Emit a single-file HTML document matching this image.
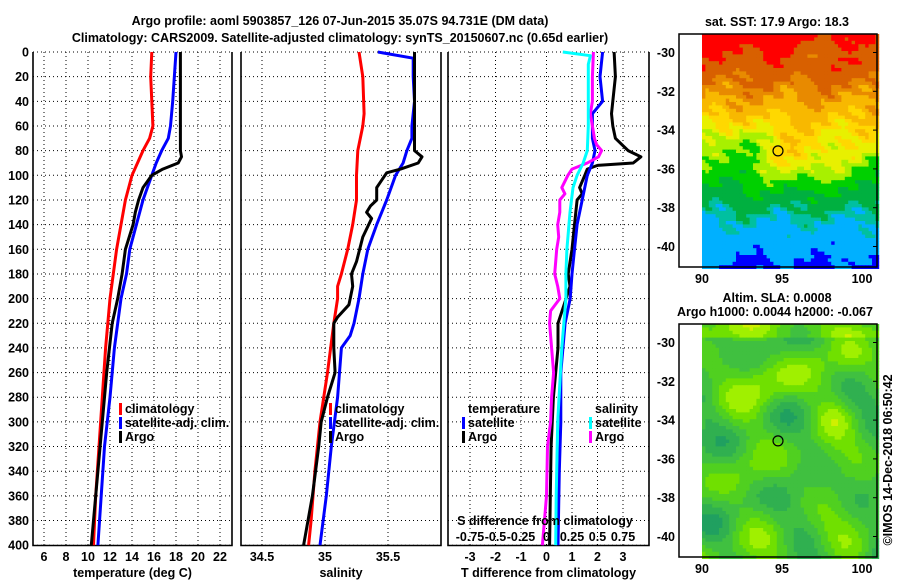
<!DOCTYPE html>
<html><head><meta charset="utf-8">
<style>
html,body{margin:0;padding:0;background:#fff;}
svg text{font-family:"Liberation Sans",sans-serif;font-weight:bold;font-size:12.5px;fill:#000;}
</style></head>
<body>
<svg id="chart" width="900" height="580" viewBox="0 0 900 580" xmlns="http://www.w3.org/2000/svg">
<rect width="900" height="580" fill="#fff"/>
<text x="340" y="25" text-anchor="middle" font-size="14">Argo profile: aoml 5903857_126 07-Jun-2015 35.07S 94.731E (DM data)</text>
<text x="340" y="42" text-anchor="middle" font-size="14">Climatology: CARS2009. Satellite-adjusted climatology: synTS_20150607.nc (0.65d earlier)</text>
<g id="panels"></g>
<g id="maps"></g>
<text x="777" y="26" text-anchor="middle">sat. SST: 17.9 Argo: 18.3</text>
<text x="777" y="302" text-anchor="middle">Altim. SLA: 0.0008</text>
<text x="775" y="316" text-anchor="middle">Argo h1000: 0.0044 h2000: -0.067</text>
<text transform="translate(892,460) rotate(-90)" text-anchor="middle" font-weight="normal">©IMOS 14-Dec-2018 06:50:42</text>
</svg>
<script>
// ---- data ----
const depthTicks = [0,20,40,60,80,100,120,140,160,180,200,220,240,260,280,300,320,340,360,380,400];
const tempTicks = [6,8,10,12,14,16,18,20,22];
const salTicks = [34.5,35,35.5];
const diffTTicks = [-3,-2,-1,0,1,2,3];
const diffSTicks = [-0.75,-0.5,-0.25,0,0.25,0.5,0.75];
const diffSTickLabels = ["-0.75","-0.5","-0.25","0","0.25","0.5","0.75"];

const tClimD = [0,20,40,60,70,80,90,100,120,140,160,180,200,240,280,320,360,400];
const tClimV = [15.8,15.7,15.8,15.9,15.6,15.0,14.5,14.0,13.4,13.0,12.6,12.3,12.0,11.6,11.3,11.0,10.7,10.5];
const tSatD = [0,40,60,70,80,90,100,120,140,160,180,200,240,280,320,360,400];
const tSatV = [18.0,17.7,17.5,17.3,16.7,16.2,15.8,15.0,14.4,13.8,13.5,13.0,12.4,12.0,11.5,11.2,10.9];
const tArgoD = [0,80,85,90,95,100,110,120,130,140,160,180,200,220,260,300,340,380,400];
const tArgoV = [18.4,18.4,18.5,18.2,16.8,15.8,15.0,14.6,14.3,14.1,13.4,13.1,12.7,12.2,11.7,11.3,10.9,10.5,10.3];

const sClimD = [0,20,50,60,80,100,120,140,160,180,190,200,220,260,300,340,380,400];
const sClimV = [35.27,35.30,35.31,35.30,35.26,35.25,35.25,35.22,35.18,35.13,35.10,35.10,35.07,35.02,34.96,34.92,34.89,34.87];
const sSatD = [0,5,20,40,60,70,80,90,100,120,140,160,180,200,220,230,240,280,320,360,400];
const sSatV = [35.42,35.70,35.70,35.71,35.69,35.69,35.65,35.62,35.56,35.49,35.41,35.34,35.30,35.27,35.23,35.20,35.13,35.10,35.05,35.01,34.96];
const sArgoD = [0,80,85,90,95,98,110,120,125,130,135,150,170,180,190,200,205,215,220,240,260,280,300,320,360,400];
const sArgoV = [35.71,35.71,35.77,35.74,35.60,35.49,35.41,35.41,35.36,35.33,35.37,35.30,35.25,35.21,35.22,35.20,35.19,35.10,35.07,35.07,35.08,35.02,34.97,34.95,34.90,34.83];

const dTSatD = [0,20,40,50,70,80,90,100,120,140,160,180,200,220,260,300,340,400];
const dTSatV = [2.2,2.1,2.2,1.8,1.8,1.9,1.8,1.6,1.4,1.2,1.1,1.0,0.93,0.73,0.56,0.56,0.5,0.45];
const dTArgoD = [0,20,40,50,60,70,80,85,90,92,95,100,110,115,120,140,160,180,190,200,220,240,280,320,360,400];
const dTArgoV = [2.65,2.7,2.6,2.55,2.6,2.7,3.2,3.7,3.4,2.0,1.6,1.5,1.3,1.4,1.2,1.1,1.0,0.85,0.92,0.77,0.45,0.45,0.27,0.18,0.15,0.12];
const dSSatD = [0,3,10,40,60,80,90,100,110,130,160,180,200,240,300,360,400];
const dSSatV = [0.16,0.43,0.41,0.41,0.41,0.40,0.36,0.30,0.26,0.23,0.20,0.19,0.19,0.15,0.11,0.095,0.09];
const dSArgoD = [0,20,40,50,60,70,75,80,85,90,95,100,110,115,120,130,140,150,160,180,190,200,210,220,240,260,280,300,320,360,400];
const dSArgoV = [0.46,0.45,0.45,0.43,0.45,0.47,0.49,0.54,0.51,0.40,0.25,0.21,0.15,0.18,0.13,0.13,0.11,0.12,0.10,0.08,0.11,0.13,0.04,0.03,0.05,0.07,0.05,0.04,0.01,0.0,-0.04];

// ---- scales ----
const NS = 'http://www.w3.org/2000/svg';
const yD = d => 52 + d * 1.233;
const xTemp = t => 44 + (t - 6) * 11;
const xSal = s => 325 + (s - 35) * 126;
const xDT = t => 546.5 + t * 25.5;
const xDS = s => 546.5 + s * 102;
const panelsG = document.getElementById('panels');
function mk(tag, attrs, parent){const e=document.createElementNS(NS,tag);for(const k in attrs)e.setAttribute(k,attrs[k]);(parent||panelsG).appendChild(e);return e;}

const panels = [
 {name:'temperature-panel', x0:33, x1:232, ticks:tempTicks, fx:xTemp, labels:tempTicks.map(String), title:'temperature (deg C)'},
 {name:'salinity-panel', x0:241, x1:441, ticks:salTicks, fx:xSal, labels:salTicks.map(String), title:'salinity'},
 {name:'difference-panel', x0:448, x1:649, ticks:diffTTicks, fx:xDT, labels:diffTTicks.map(String), title:'T difference from climatology'}
];
panels.forEach((p,pi)=>{
  const g = mk('g',{});
  
  
  depthTicks.forEach(d=>{
    const l = mk('line',{x1:p.x0,x2:p.x1,y1:yD(d),y2:yD(d),stroke:'#000','stroke-width':1,'stroke-dasharray':'1,3'},g);
    
    
  });
  p.ticks.forEach((t,i)=>{
    const x=p.fx(t);
    const l = mk('line',{x1:x,x2:x,y1:52,y2:545,stroke:'#000','stroke-width':1,'stroke-dasharray':'1,3'},g);
    
    
    const tx = mk('text',{x:x,y:561,'text-anchor':'middle'},g);
    tx.textContent = p.labels[i];
    
    
  });
  const fr = mk('path',{d:`M${p.x0},52V545.5H${p.x1}V52`,fill:'none',stroke:'#000','stroke-width':1.6},g);
  
  
  const tt = mk('text',{x:(p.x0+p.x1)/2,y:577,'text-anchor':'middle'},g);
  tt.textContent = p.title;
  
  
});
depthTicks.forEach(d=>{
  const tx = mk('text',{x:29,y:yD(d)+4.5,'text-anchor':'end'});
  tx.textContent = String(d);
  
  
});

function line(D,V,fx,color,name){
  const pts = D.map((d,i)=>fx(V[i]).toFixed(1)+','+yD(d).toFixed(1)).join(' ');
  const pl = mk('polyline',{points:pts,fill:'none',stroke:color,'stroke-width':3,'stroke-linejoin':'round'});
  
  
}
line(tClimD,tClimV,xTemp,'#ff0000','temp-climatology-line');
line(tSatD,tSatV,xTemp,'#0000ff','temp-satellite-line');
line(tArgoD,tArgoV,xTemp,'#000','temp-argo-line');
line(sClimD,sClimV,xSal,'#ff0000','sal-climatology-line');
line(sSatD,sSatV,xSal,'#0000ff','sal-satellite-line');
line(sArgoD,sArgoV,xSal,'#000','sal-argo-line');
line(dTArgoD,dTArgoV,xDT,'#000','diff-t-argo-line');
line(dTSatD,dTSatV,xDT,'#0000ff','diff-t-satellite-line');
line(dSArgoD,dSArgoV,xDS,'#ff00ff','diff-s-argo-line');
line(dSSatD,dSSatV,xDS,'#00ffff','diff-s-satellite-line');

function legend(x,y,color,label,name){
  const r = mk('rect',{x:x,y:y-10,width:3,height:12,fill:color});
  
  
  const t = mk('text',{x:x+6,y:y});
  t.textContent = label;
  
  
}
legend(119,413,'#ff0000','climatology','legend-temp-climatology');
legend(119,427,'#0000ff','satellite-adj. clim.','legend-temp-satellite');
legend(119,441,'#000','Argo','legend-temp-argo');
legend(329,413,'#ff0000','climatology','legend-sal-climatology');
legend(329,427,'#0000ff','satellite-adj. clim.','legend-sal-satellite');
legend(329,441,'#000','Argo','legend-sal-argo');
legend(462,427,'#0000ff','satellite','legend-dt-satellite');
legend(462,441,'#000','Argo','legend-dt-argo');
legend(589,427,'#00ffff','satellite','legend-ds-satellite');
legend(589,441,'#ff00ff','Argo','legend-ds-argo');
let t1 = mk('text',{x:468,y:413}); t1.textContent='temperature';


let t2 = mk('text',{x:595,y:413}); t2.textContent='salinity';


let t3 = mk('text',{x:545,y:525,'text-anchor':'middle'}); t3.textContent='S difference from climatology';


diffSTicks.forEach((s,i)=>{
  const t = mk('text',{x:xDS(s),y:541,'text-anchor':'middle'});
  t.textContent = diffSTickLabels[i];
  
  
});

// ---- maps ----
const mapsG = document.getElementById('maps');
const latTicks = [-30,-32,-34,-36,-38,-40];
const lonTicks = [90,95,100];
const xLon = l => 702 + (l - 90) * 16;
const yLat = (lat,top) => top + 18.5 + (-30 - lat) * 19.4;
const sstColors = ['#ff0000','#d86000','#e88a00','#f8b800','#ffd800','#e8f000','#a8f000','#00d000','#00b040','#00c0a0','#00b0ff','#0000ff'];
const sstThr = [0.08,0.2,0.28,0.36,0.42,0.48,0.54,0.64,0.74,0.8,0.97];
const slaColors = ['#20a060','#30b050','#40c040','#50d020','#70e000','#a0f000','#d0f000','#e8e000'];
function drawMap(top,kind){
  const g = document.createElementNS(NS,'g'); mapsG.appendChild(g);
  
  
  let html='';
  const c=3.4;
  for(let y=top;y<top+233;y+=c){
    for(let x=702;x<877;x+=c){
      let col;
      if(kind==='sst'){
        const f=(y-top)/233;
        let L=f+0.04*Math.sin(x/11+y/17)+0.025*Math.sin(x/4.3-y/5.1)+0.02*Math.sin(x*1.7+y*2.3);
        L += -0.12*Math.exp(-Math.pow((x-800)/45,2))*Math.exp(-Math.pow((f-0.55)/0.12,2));
        L += 0.08*Math.exp(-Math.pow((x-730)/35,2))*Math.exp(-Math.pow((f-0.45)/0.1,2));
        if(f<0.1 && x>790) L+=0.05;
        let k=0; while(k<sstThr.length && L>sstThr[k]) k++;
        col=sstColors[k];
      } else {
        const f=(y-top)/233;
        let v=0.38+0.16*Math.sin(x/21+y/29)*Math.cos(y/23-x/37)+0.12*Math.sin(x/13-y/17)+0.07*Math.cos(y/11+x/19);
        v += 0.22*Math.exp(-Math.pow((x-770)/30,2))*Math.exp(-Math.pow((f-0.25)/0.12,2));
        v += 0.18*Math.exp(-Math.pow((x-850)/20,2))*Math.exp(-Math.pow((f-0.12)/0.08,2));
        v += 0.15*Math.exp(-Math.pow((x-835)/20,2))*Math.exp(-Math.pow((f-0.4)/0.07,2));
        if(f<0.05) v+=0.2;
        let k=Math.max(0,Math.min(slaColors.length-1,Math.floor(v*slaColors.length)));
        col=slaColors[k];
      }
      html+=`<rect x="${x.toFixed(1)}" y="${y.toFixed(1)}" width="${c+0.4}" height="${c+0.4}" fill="${col}"/>`;
    }
  }
  g.innerHTML=html;
  const fr=mk('rect',{x:679,y:top,width:198,height:233,fill:'none',stroke:'#000','stroke-width':1.5},g);
  
  
  const circ=mk('circle',{cx:778,cy:yLat(-35.07,top),r:5,fill:'none',stroke:'#000','stroke-width':1.2},g);
  
  
  latTicks.forEach(l=>{
    const t=mk('text',{x:675,y:yLat(l,top)+4.5,'text-anchor':'end'},g);
    t.textContent=String(l);
    
    
    mk('line',{x1:873,x2:877,y1:yLat(l,top),y2:yLat(l,top),stroke:'#000'},g);
  });
  lonTicks.forEach(l=>{
    const t=mk('text',{x:xLon(l),y:top+249,'text-anchor':'middle'},g);
    t.textContent=String(l);
    
    
  });
}
drawMap(34,'sst');
drawMap(324,'sla');
</script>
</body></html>
